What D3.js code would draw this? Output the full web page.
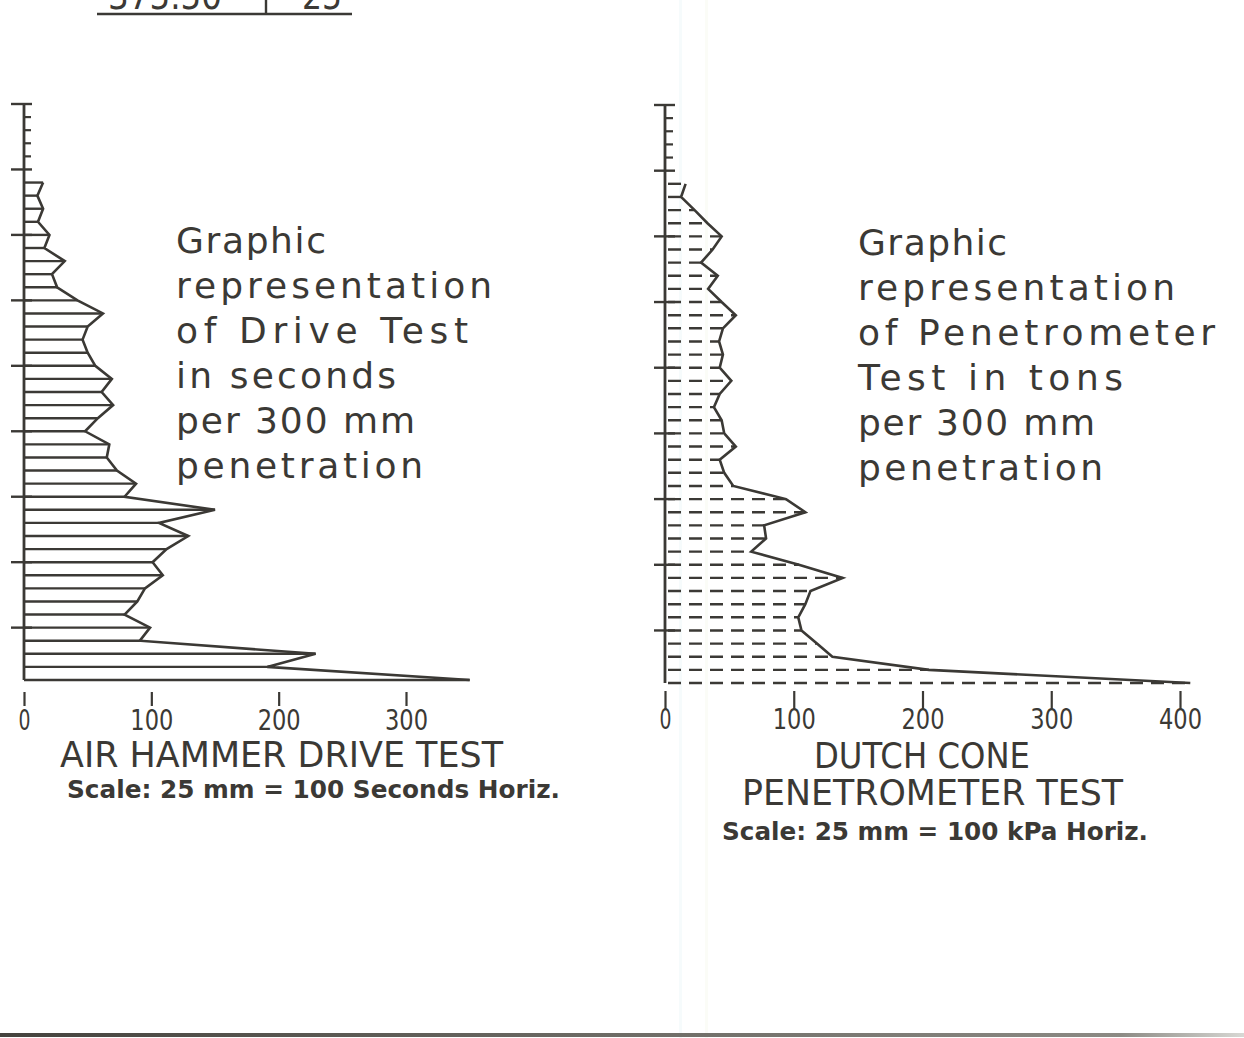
<!DOCTYPE html>
<html><head><meta charset="utf-8">
<script src="https://cdn.jsdelivr.net/npm/d3@7"></script>
<style>html,body{margin:0;padding:0;background:#fff;} svg{display:block}</style>
</head><body>
<svg id="chart" width="1244" height="1038"></svg>
<script>
// ---------- data ----------
const depthsM = [1.8,2.1,2.4,2.7,3.0,3.3,3.6,3.9,4.2,4.5,4.8,5.1,5.4,5.7,6.0,6.3,6.6,6.9,7.2,7.5,
                 7.8,8.1,8.4,8.7,9.0,9.3,9.6,9.9,10.2,10.5,10.8,11.1,11.4,11.7,12.0,12.3,12.6,12.9,13.2];
const driveSeconds = [15,10.5,15,11,20,16,32,22,26,42,62,50,46,50,56,69,61,70,58,48,
                      67,65,73,88,79,150,106,129,112,101,109,95,89,79,99,91,229,191,350];
const coneKPa = [16,12.5,23,33,44,37,28,41,33.5,44,55,45,42,45,42.5,51.5,42.5,38,44,46,
                 55,42.5,46,53,94,109,77,78.5,67,104,138,113,109,103.5,106,118,130,205,408];
const majorDepths = [0,1.5,3,4.5,6,7.5,9,10.5,12];
const minorDepths = [0.3,0.6,0.9,1.2];
const driveTicks = [0,100,200,300];
const coneTicks = [0,100,200,300,400];
const driveNote = ["Graphic","representation","of Drive Test","in seconds","per 300 mm","penetration"];
const coneNote = ["Graphic","representation","of Penetrometer","Test in tons","per 300 mm","penetration"];
const driveTitle = ["AIR HAMMER DRIVE TEST"];
const coneTitle = ["DUTCH CONE","PENETROMETER TEST"];
const driveScale = "Scale: 25 mm = 100 Seconds Horiz.";
const coneScale = "Scale: 25 mm = 100 kPa Horiz.";
const headerLeft = "375.50", headerRight = "25";

// ---------- drawing ----------
const ink = "#3b3935";
const svg = d3.select("#chart");
const FONT = "'DejaVu Sans', Verdana, sans-serif";

// faint scan artefacts
svg.append("rect").attr("x",679).attr("y",0).attr("width",3).attr("height",1038).attr("fill","#e4f4f7").attr("opacity",0.35);
svg.append("rect").attr("x",705).attr("y",0).attr("width",3).attr("height",1038).attr("fill","#f3f7e8").attr("opacity",0.35);

// header fragment
const hdr = svg.append("g");
hdr.append("text").attr("x",108).attr("y",9).attr("font-family",FONT).attr("font-size",38)
  .attr("fill",ink).attr("textLength",114).attr("lengthAdjust","spacingAndGlyphs").text(headerLeft);
hdr.append("text").attr("x",302).attr("y",9).attr("font-family",FONT).attr("font-size",38)
  .attr("fill",ink).attr("textLength",40).attr("lengthAdjust","spacingAndGlyphs").text(headerRight);
hdr.append("line").attr("x1",97).attr("x2",352).attr("y1",14).attr("y2",14).attr("stroke",ink).attr("stroke-width",2.6);
hdr.append("line").attr("x1",266).attr("x2",266).attr("y1",0).attr("y2",14).attr("stroke",ink).attr("stroke-width",2.4);

function panel(cfg){
  const g = svg.append("g");
  const x = d3.scaleLinear().domain(cfg.xDomain).range(cfg.xRange);
  const y = d3.scaleLinear().domain([0,13.2]).range(cfg.yRange);
  const pts = depthsM.map((d,i)=>({d, v: cfg.values[i]}));
  // bars
  g.selectAll("line.bar").data(pts).join("line").attr("class","bar")
    .attr("x1",x(0)).attr("x2",d=>x(d.v)).attr("y1",d=>y(d.d)).attr("y2",d=>y(d.d))
    .attr("stroke",ink).attr("stroke-width",2.4)
    .attr("stroke-dasharray",cfg.dashed ? "13 8" : null)
    .attr("stroke-dashoffset",cfg.dashed ? 18 : null);
  // profile
  g.append("path").datum(pts)
    .attr("d",d3.line().x(d=>x(d.v)).y(d=>y(d.d)))
    .attr("fill","none").attr("stroke",ink).attr("stroke-width",2.6).attr("stroke-linejoin","miter");
  // vertical axis
  g.append("line").attr("x1",x(0)).attr("x2",x(0)).attr("y1",y(0)).attr("y2",y(13.2))
    .attr("stroke",ink).attr("stroke-width",2.8);
  g.selectAll("line.maj").data(majorDepths).join("line").attr("class","maj")
    .attr("x1",x(0)-cfg.majL).attr("x2",x(0)+cfg.majR).attr("y1",d=>y(d)).attr("y2",d=>y(d))
    .attr("stroke",ink).attr("stroke-width",2.4);
  g.selectAll("line.min").data(minorDepths).join("line").attr("class","min")
    .attr("x1",x(0)).attr("x2",x(0)+cfg.minR).attr("y1",d=>y(d)).attr("y2",d=>y(d))
    .attr("stroke",ink).attr("stroke-width",2.2);
  // horizontal axis ticks (detached) and labels
  const ax = d3.axisBottom(x).tickValues(cfg.ticks).tickSize(cfg.tickLen).tickFormat(d3.format("d"));
  const axg = g.append("g").attr("transform",`translate(0,${cfg.tickY})`).call(ax);
  axg.select(".domain").remove();
  axg.selectAll(".tick line").attr("stroke",ink).attr("stroke-width",2.2);
  axg.selectAll(".tick text").attr("fill",ink).attr("font-family",FONT).attr("font-size",28)
    .attr("dy",null).attr("y",cfg.labelY - cfg.tickY)
    .attr("textLength",d=>d===0?12:43).attr("lengthAdjust","spacingAndGlyphs");
  // note block
  g.selectAll("text.note").data(cfg.note).join("text").attr("class","note")
    .attr("x",cfg.noteX).attr("y",(d,i)=>cfg.noteY + i*45)
    .attr("font-family",FONT).attr("font-size",36).attr("fill",ink)
    .attr("textLength",(d,i)=>cfg.noteLen[i]).attr("lengthAdjust","spacing")
    .text(d=>d);
  // titles
  g.selectAll("text.title").data(cfg.title).join("text").attr("class","title")
    .attr("x",(d,i)=>cfg.titleX[i]).attr("y",(d,i)=>cfg.titleY[i])
    .attr("font-family",FONT).attr("font-size",35).attr("fill",ink)
    .attr("textLength",(d,i)=>cfg.titleLen[i]).attr("lengthAdjust","spacingAndGlyphs")
    .text(d=>d);
  g.append("text").attr("x",cfg.scaleX).attr("y",cfg.scaleY)
    .attr("font-family",FONT).attr("font-size",24).attr("font-weight","bold").attr("fill",ink)
    .attr("textLength",cfg.scaleLen).attr("lengthAdjust","spacingAndGlyphs").text(cfg.scaleText);
}

panel({values:driveSeconds, dashed:false, xDomain:[0,300], xRange:[24,406], yRange:[104,680],
  majL:13, majR:8, minR:7, ticks:driveTicks, tickY:692, tickLen:14, labelY:729.5,
  note:driveNote, noteX:176, noteY:253, noteLen:[150,316,292,220,239,247],
  title:driveTitle, titleX:[60], titleY:[767], titleLen:[443],
  scaleText:driveScale, scaleX:67, scaleY:798, scaleLen:493});

panel({values:coneKPa, dashed:true, xDomain:[0,400], xRange:[665,1180], yRange:[105,683],
  majL:11, majR:10, minR:8, ticks:coneTicks, tickY:691, tickLen:19, labelY:729,
  note:coneNote, noteX:858, noteY:254.5, noteLen:[149,317,357,265,237,245],
  title:coneTitle, titleX:[814,742], titleY:[768,805], titleLen:[216,381],
  scaleText:coneScale, scaleX:722, scaleY:840, scaleLen:426});

// bottom rule
const grad = svg.append("defs").append("linearGradient").attr("id","rule");
grad.append("stop").attr("offset","0%").attr("stop-color","#45433e");
grad.append("stop").attr("offset","45%").attr("stop-color","#6a6862");
grad.append("stop").attr("offset","90%").attr("stop-color","#8c8a84");
grad.append("stop").attr("offset","100%").attr("stop-color","#d8d8d4");
svg.append("rect").attr("x",0).attr("y",1033).attr("width",1244).attr("height",4).attr("fill","url(#rule)");
</script>
</body></html>
